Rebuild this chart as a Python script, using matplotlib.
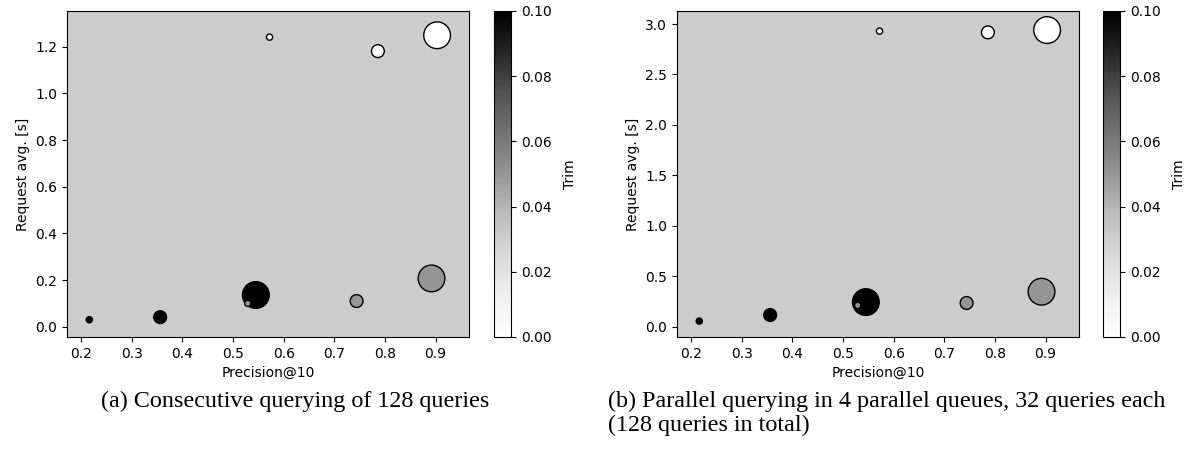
import matplotlib
matplotlib.use('Agg')
import matplotlib.pyplot as plt

# data
precision = [0.216, 0.356, 0.545, 0.529, 0.744, 0.892, 0.572, 0.786, 0.903]
trim = [0.10, 0.10, 0.10, 0.05, 0.05, 0.05, 0.00, 0.00, 0.00]
marker_size = [20, 85, 370, 20, 85, 370, 20, 85, 370]
latency_seq = [0.030, 0.041, 0.136, 0.100, 0.110, 0.207, 1.241, 1.181, 1.249]
latency_par = [0.056, 0.116, 0.244, 0.211, 0.235, 0.347, 2.930, 2.917, 2.940]

caption_a = '(a) Consecutive querying of 128 queries'
caption_b = ['(b) Parallel querying in 4 parallel queues, 32 queries each',
             '(128 queries in total)']

W, H = 1189, 454
fig = plt.figure(figsize=(W / 100, H / 100), dpi=100)

panels = [(67, 494, latency_seq, (-0.044, 1.353), [0.0, 0.2, 0.4, 0.6, 0.8, 1.0, 1.2]),
          (677, 1103, latency_par, (-0.102, 3.129), [0.0, 0.5, 1.0, 1.5, 2.0, 2.5, 3.0])]

for left, cb_left, latency, ylim, yticks in panels:
    ax = fig.add_axes([left / W, 117 / H, 402 / W, 326 / H])
    cax = fig.add_axes([cb_left / W, 117 / H, 17 / W, 326 / H])
    ax.set_facecolor('#cccccc')
    sc = ax.scatter(precision, latency, c=trim, s=marker_size, cmap='Greys',
                    vmin=0.0, vmax=0.1, edgecolors='k', linewidths=1.0)
    ax.set_xlim(0.172, 0.966)
    ax.set_ylim(*ylim)
    ax.set_xticks([0.2, 0.3, 0.4, 0.5, 0.6, 0.7, 0.8, 0.9])
    ax.set_yticks(yticks)
    ax.set_xlabel('Precision@10')
    ax.set_ylabel('Request avg. [s]')
    cb = fig.colorbar(sc, cax=cax)
    cb.set_ticks([0.0, 0.02, 0.04, 0.06, 0.08, 0.10])
    cb.set_label('Trim', labelpad=8)

# sub-figure captions
fig.text(295 / W, 1 - 401 / H, caption_a, ha='center', va='center',
         family='Liberation Serif', fontsize=17.4)
for i, line in enumerate(caption_b):
    fig.text(608 / W, 1 - (401 + 24 * i) / H, line, ha='left', va='center',
             family='Liberation Serif', fontsize=17.4)

fig.savefig('out.png', dpi=100)
